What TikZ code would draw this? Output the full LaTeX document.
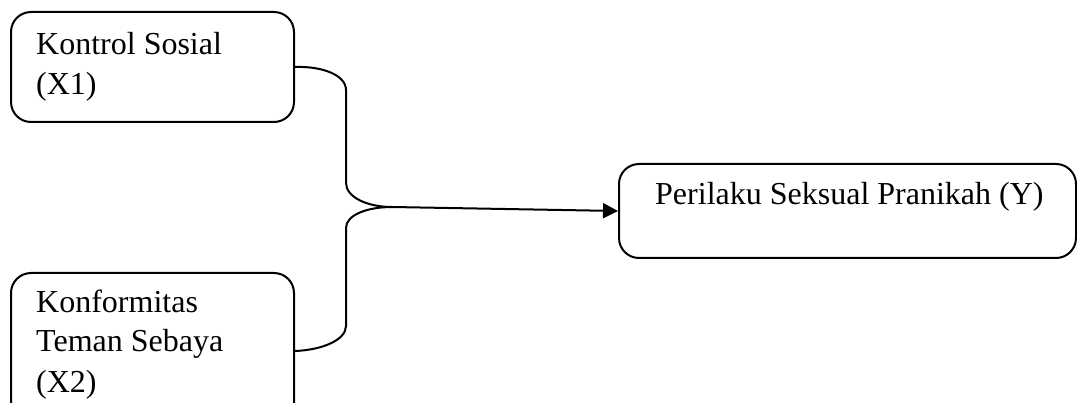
\documentclass[tikz,border=0pt]{standalone}
\usepackage{fontspec}
\setmainfont{Liberation Serif}
\usetikzlibrary{arrows.meta}

\begin{document}
\begin{tikzpicture}[x=1pt,y=-1pt,
  box/.style={draw,line width=2pt,rounded corners=20pt,inner sep=0pt},
  txt/.style={inner sep=0pt,align=left,font=\fontsize{32}{40}\selectfont},
  conn/.style={line width=2pt},
  arr/.style={conn,-{Triangle[length=15pt,width=15pt]}}]
\useasboundingbox (0,0) rectangle (1077,403);

% variable boxes
\node[box,anchor=north west,minimum width=283pt,minimum height=110pt] (x1) at (10,11) {};
\node[box,anchor=north west,minimum width=283pt,minimum height=156pt] (x2) at (10,272) {};
\node[box,anchor=north west,minimum width=457pt,minimum height=94pt] (y) at (618,163) {};

% box labels (base anchor sits on the last line)
\node[txt,anchor=base west] (t1) at (36,95) {Kontrol Sosial\\(X1)};
\node[txt,anchor=base west] (t2) at (36,392) {Konformitas\\Teman Sebaya\\(X2)};
\node[txt,anchor=base west] (ty) at (655,205) {Perilaku Seksual Pranikah (Y)};

% brace joining both predictors
\coordinate (j) at (392,207);
\draw[conn] (x1.east) .. controls (322,66) and (346,75) .. (346,90)
  -- (346,183) .. controls (346,197) and (367,207) .. (j);
\draw[conn] (x2.east) .. controls (322,350) and (346,340) .. (346,326)
  -- (346,228) .. controls (346,215) and (367,207) .. (j);
\draw[arr] (j) -- (y.west);
\end{tikzpicture}
\end{document}
